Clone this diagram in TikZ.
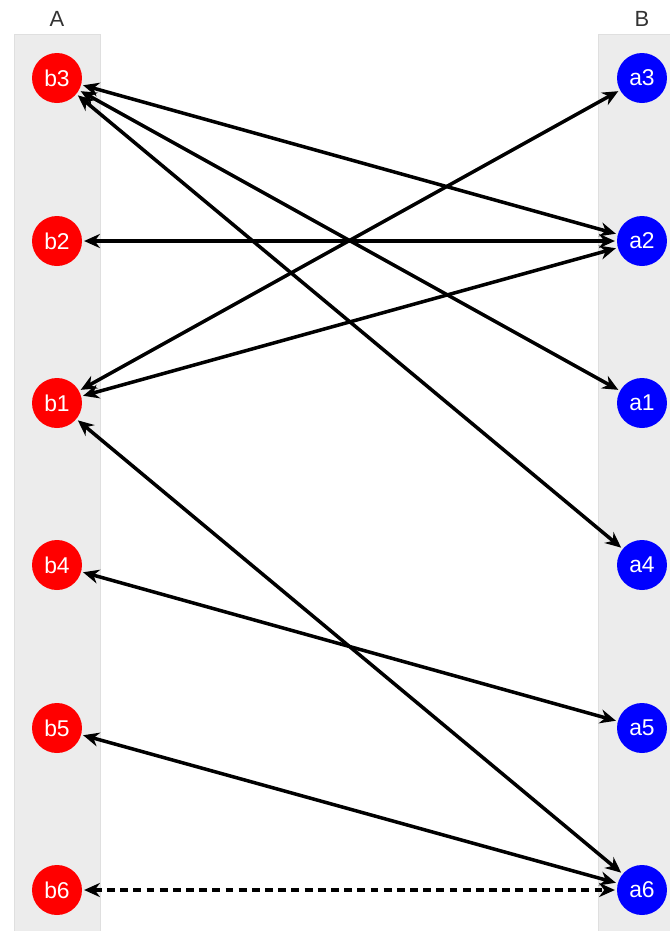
\documentclass[tikz,border=0pt]{standalone}
\usepackage{fontspec}
\setmainfont{Liberation Sans}
\usetikzlibrary{arrows.meta}
\tikzset{
    nodea/.style = {circle, minimum size=1cm, inner sep=0pt, fill=red, text=white, font=\fontsize{13}{15}\selectfont},
    nodeb/.style = {circle, minimum size=1cm, inner sep=0pt, fill=blue, text=white, font=\fontsize{13}{15}\selectfont},
    panel/.style = {fill=gray!15, draw=gray!25, line width=0.5pt},
    title/.style = {font=\fontsize{12.5}{14}\selectfont, text=black!80},
    edgen/.style = {{Stealth[length=9pt,width=8pt]}-{Stealth[length=9pt,width=8pt]}, line width=2pt, black, shorten <=1pt, shorten >=1pt},
    edged/.style = {edgen, dash pattern=on 4.5pt off 3pt}
}

\begin{document}
\begin{tikzpicture}[x=0.02cm, y=-0.02cm]
\path[use as bounding box] (0,0) rectangle (670,931);
% the two sets
\path[panel] (14,34) rectangle (100,935);
\path[panel] (598,34) rectangle (675,935);
\node[title] at (57,19) (ta) {A};
\node[title] at (642,19) (tb) {B};
%
\node[nodea] at (57,78) (b3) {b3};
\node[nodea] at (57,241) (b2) {b2};
\node[nodea] at (57,403) (b1) {b1};
\node[nodea] at (57,565) (b4) {b4};
\node[nodea] at (57,728) (b5) {b5};
\node[nodea] at (57,890) (b6) {b6};
%
\node[nodeb] at (642,78) (a3) {a3};
\node[nodeb] at (642,241) (a2) {a2};
\node[nodeb] at (642,403) (a1) {a1};
\node[nodeb] at (642,565) (a4) {a4};
\node[nodeb] at (642,728) (a5) {a5};
\node[nodeb] at (642,890) (a6) {a6};
%
\draw[edgen] (b3) edge (a2);
\draw[edgen] (b3) edge (a1);
\draw[edgen] (b3) edge (a4);
\draw[edgen] (b2) edge (a2);
\draw[edgen] (b1) edge (a3);
\draw[edgen] (b1) edge (a2);
\draw[edgen] (b1) edge (a6);
\draw[edgen] (b4) edge (a5);
\draw[edgen] (b5) edge (a6);
\draw[edged] (b6) -- (a6);
\end{tikzpicture}
\end{document}
